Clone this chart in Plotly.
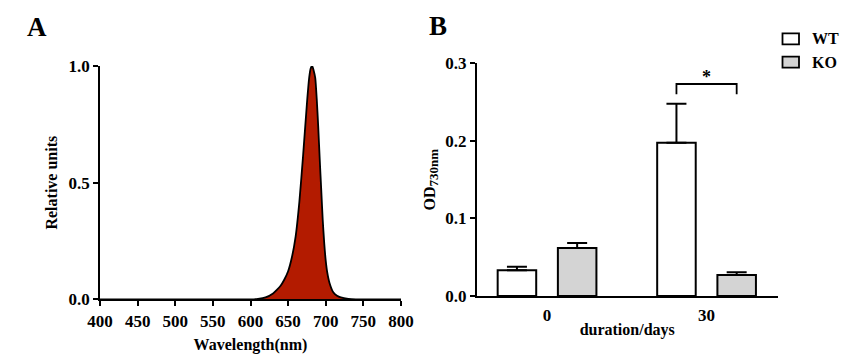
import plotly.graph_objects as go

# ---------------- data ----------------
wavelength = [400, 500, 600, 610, 620, 630, 635, 640, 645, 650, 655, 660, 665, 670, 675,
              678, 680, 682, 684, 686, 688, 690, 692, 694, 696, 698, 700, 702, 705,
              710, 715, 720, 730, 740, 800]
relative_units = [0.0, 0.0, 0.0, 0.002, 0.008, 0.025, 0.04, 0.058, 0.085, 0.12, 0.18, 0.27,
                  0.42, 0.62, 0.84, 0.95, 0.99, 1.0, 0.98, 0.95, 0.86, 0.74, 0.6, 0.47,
                  0.34, 0.24, 0.165, 0.115, 0.07, 0.03, 0.015, 0.008, 0.002, 0.0, 0.0]

categories = ["0", "30"]
wt_values = [0.0331, 0.1976]
wt_err = [0.0047, 0.0503]
ko_values = [0.0619, 0.0271]
ko_err = [0.0064, 0.0034]
ko_zero = [0, 0]

a_xticks = [400, 450, 500, 550, 600, 650, 700, 750, 800]
a_yticks = [0.0, 0.5, 1.0]
b_yticks = [0.0, 0.1, 0.2, 0.3]

# ---------------- figure ----------------
OFF = 8  # page body margin
W, H = 866 - OFF, 356 - OFF
FONT = "Liberation Serif"


def px(x):
    return (x - OFF) / W


def py(y):
    return 1 - (y - OFF) / H


fig = go.Figure()

fig.add_trace(go.Scatter(
    x=wavelength, y=relative_units, mode="lines",
    line=dict(color="black", width=1.8, shape="spline", smoothing=0.6),
    fill="tozeroy", fillcolor="#b31b00",
    xaxis="x", yaxis="y", showlegend=False, cliponaxis=False,
))

fig.add_trace(go.Bar(
    x=categories, y=wt_values, name="WT",
    marker=dict(color="white", line=dict(color="black", width=2)),
    error_y=dict(type="data", array=wt_err, arrayminus=ko_zero, symmetric=False,
                 color="black", thickness=2, width=10),
    xaxis="x2", yaxis="y2", showlegend=False,
))
fig.add_trace(go.Bar(
    x=categories, y=ko_values, name="KO",
    marker=dict(color="#d4d4d4", line=dict(color="black", width=2)),
    error_y=dict(type="data", array=ko_err, arrayminus=ko_zero, symmetric=False,
                 color="black", thickness=2, width=10),
    xaxis="x2", yaxis="y2", showlegend=False,
))

tick_font = dict(family=FONT, size=17, color="black", weight="bold")
title_font = dict(family=FONT, size=16, color="black", weight="bold")

axis_common = dict(
    showgrid=False, zeroline=False, showline=True, linecolor="black", linewidth=1.8,
    tickwidth=1.8, tickcolor="black", tickfont=tick_font, automargin=False,
)

fig.update_layout(
    width=W, height=H,
    margin=dict(l=0, r=0, t=0, b=0),
    paper_bgcolor="white", plot_bgcolor="white",
    font=dict(family=FONT, size=16, color="black", weight="bold"),
    barmode="group", bargap=0.245, bargroupgap=0.36,
    xaxis=dict(
        **axis_common, ticks="outside", ticklen=5,
        domain=[px(100), px(401)], range=[400, 800],
        tickvals=a_xticks, anchor="y",
        title=dict(text="Wavelength(nm)", standoff=9, font=title_font),
    ),
    yaxis=dict(
        **axis_common, ticks="outside", ticklen=5,
        domain=[py(299.3), py(66)], range=[0, 1],
        tickvals=a_yticks, tickformat=".1f", anchor="x",
        title=dict(text="Relative units", standoff=7, font=title_font),
    ),
    xaxis2=dict(
        **axis_common, ticks="", ticklabelstandoff=3,
        domain=[px(476.7), px(777.7)], range=[-0.441, 1.446],
        type="category", anchor="y2",
        title=dict(text="duration/days", standoff=0, font=title_font),
    ),
    yaxis2=dict(
        **axis_common, ticks="outside", ticklen=5,
        domain=[py(296), py(63.3)], range=[0, 0.3],
        tickvals=b_yticks, tickformat=".1f", anchor="x2",
        title=dict(text="OD<sub><span style='font-size:13px'>730nm</span></sub>",
                   standoff=6, font=title_font),
    ),
)

# significance bracket
half = (1 - 0.245) / 4
fig.add_shape(type="path", xref="x2", yref="y2",
              path=f"M {1 - half},0.26 L {1 - half},0.2733 L {1 + half},0.2733 L {1 + half},0.26",
              line=dict(color="black", width=1.8))
fig.add_annotation(x=1, y=0.2733, xref="x2", yref="y2", text="*", showarrow=False,
                   yanchor="bottom", yshift=-5,
                   font=dict(family=FONT, size=18, color="black", weight="bold"))

# panel letters
fig.add_annotation(x=px(37), y=py(27), xref="paper", yref="paper", text="A", showarrow=False,
                   xanchor="center", yanchor="middle",
                   font=dict(family=FONT, size=27, color="black", weight="bold"))
fig.add_annotation(x=px(438), y=py(26), xref="paper", yref="paper", text="B", showarrow=False,
                   xanchor="center", yanchor="middle",
                   font=dict(family=FONT, size=27, color="black", weight="bold"))

# custom legend
legend_items = [("WT", "white", 33.3, 44.3), ("KO", "#d4d4d4", 56.7, 67.7)]
for name, color, y0, y1 in legend_items:
    fig.add_shape(type="rect", xref="paper", yref="paper",
                  x0=px(782.5), x1=px(799), y0=py(y1), y1=py(y0),
                  fillcolor=color, line=dict(color="black", width=1.8))
    fig.add_annotation(x=px(810), y=py((y0 + y1) / 2), xref="paper", yref="paper",
                       text=name, showarrow=False, xanchor="left", yanchor="middle",
                       font=dict(family=FONT, size=16, color="black", weight="bold"))

fig.write_html("out.html")
